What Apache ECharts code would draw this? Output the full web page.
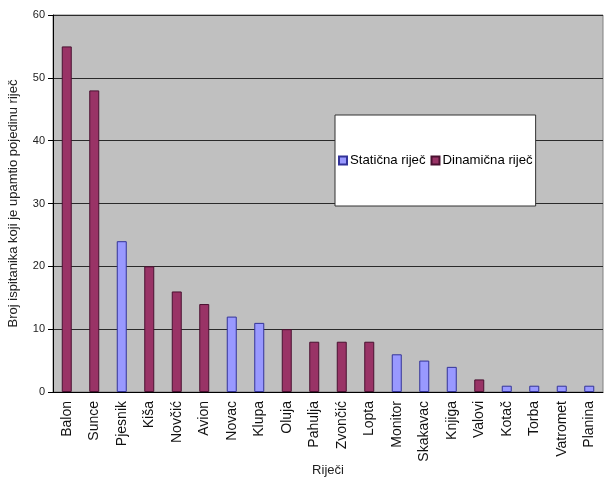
<!DOCTYPE html>
<html>
<head>
<meta charset="utf-8">
<script src="https://cdn.jsdelivr.net/npm/echarts@6/dist/echarts.min.js"></script>
<style>
  html, body { margin: 0; padding: 0; background: #fff; }
  #chart { width: 606px; height: 481px; }
</style>
</head>
<body>
<div id="chart"></div>
<script>
// riječi (kategorije)
const words = ["Balon", "Sunce", "Pjesnik", "Kiša", "Novčić", "Avion", "Novac", "Klupa", "Oluja", "Pahulja",
  "Zvončić", "Lopta", "Monitor", "Skakavac", "Knjiga", "Valovi", "Kotač", "Torba", "Vatromet", "Planina"]
// statična riječ
const staticValues = [null, null, 24, null, null, null, 12, 11, null, null,
  null, null, 6, 5, 4, null, 1, 1, 1, 1]
// dinamična riječ
const dynamicValues = [55, 48, null, 20, 16, 14, null, null, 10, 8,
  8, 8, null, null, null, 2, null, null, null, null]

const chart = echarts.init(document.getElementById("chart"))

const font = "Liberation Sans, Arial, sans-serif"

chart.setOption({
  animation: false,
  textStyle: { fontFamily: font },
  grid: {
    left: 53,
    right: 3,
    top: 15,
    bottom: 89,
    outerBoundsMode: "none",
    containLabel: false,
    show: true,
    backgroundColor: "#c0c0c0",
    borderColor: "#808080",
    borderWidth: 1
  },
  legend: {
    left: 335,
    top: 115,
    padding: [39, 3, 39, 3],
    backgroundColor: "#fff",
    borderColor: "#333",
    borderWidth: 1,
    itemWidth: 8,
    itemHeight: 8,
    itemGap: 5,
    icon: "rect",
    textStyle: { fontSize: 13.2, color: "#000", fontFamily: font, padding: [0, 0, 0, -2] },
    data: ["Statična riječ", "Dinamična riječ"]
  },
  xAxis: {
    type: "category",
    data: words,
    name: "Riječi",
    nameLocation: "middle",
    nameGap: 72,
    nameMoveOverlap: false,
    nameTextStyle: { fontSize: 13, color: "#222", fontFamily: font },
    axisLine: { lineStyle: { color: "#000" } },
    axisTick: { lineStyle: { color: "#000" }, length: 5 },
    axisLabel: { rotate: 90, interval: 0, fontSize: 14, color: "#111", margin: 9 }
  },
  yAxis: {
    type: "value",
    min: 0,
    max: 60,
    interval: 10,
    name: "Broj ispitanika koji je upamtio pojedinu riječ",
    nameLocation: "middle",
    nameGap: 33,
    nameMoveOverlap: false,
    nameTextStyle: { fontSize: 13, color: "#222", fontFamily: font },
    axisLine: { show: true, lineStyle: { color: "#000" } },
    axisTick: { show: true, length: 5, lineStyle: { color: "#000" } },
    axisLabel: { fontSize: 11, color: "#222", margin: 8 },
    splitLine: { lineStyle: { color: "#2a2a2a", width: 1 } }
  },
  series: [
    {
      name: "Statična riječ",
      type: "bar",
      stack: "r",
      barWidth: 10,
      data: staticValues,
      itemStyle: { color: "#9999ff", borderColor: "#333399", borderWidth: 1 }
    },
    {
      name: "Dinamična riječ",
      type: "bar",
      stack: "r",
      barWidth: 10,
      data: dynamicValues,
      itemStyle: { color: "#993366", borderColor: "#4a1030", borderWidth: 1 }
    }
  ]
})
</script>
</body>
</html>
